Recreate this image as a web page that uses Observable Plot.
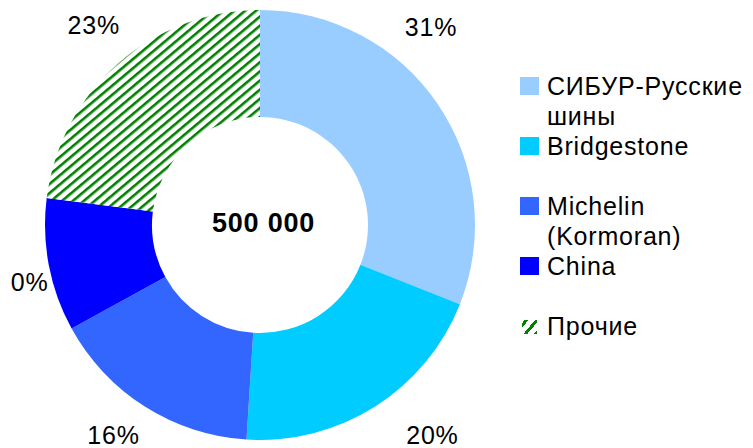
<!DOCTYPE html>
<html>
<head>
<meta charset="utf-8">
<script src="https://cdn.jsdelivr.net/npm/d3@7"></script>
<script src="https://cdn.jsdelivr.net/npm/@observablehq/plot@0.6"></script>
<style>
  html, body { margin: 0; padding: 0; background: #fff; overflow: hidden; }
  #wrap { position: relative; width: 753px; height: 448px; font-family: "Liberation Sans", Arial, sans-serif; }
  #wrap svg.plot, #wrap > svg { position: absolute; left: 0; top: 0; }
  #legend { position: absolute; left: 520px; top: 71px; width: 233px; }
  .entry { position: relative; height: 60px; }
  .sw { position: absolute; left: 0; top: 6px; width: 19px; height: 18px; }
  .txt { position: absolute; left: 27px; top: 0; width: 215px; font-size: 25px; line-height: 30px; letter-spacing: 0.8px; color: #000; }
</style>
</head>
<body>
<div id="wrap"></div>
<script>
// ---- data ----
const categories = ["СИБУР-Русские шины", "Bridgestone", "Michelin (Kormoran)", "China", "Прочие"];
const shares = [31, 20, 16, 10, 23];
const pctLabels = ["31%", "20%", "16%", "0%", "23%"];
const centerLabel = "500 000";
const colors = ["#99CCFF", "#00CCFF", "#3366FF", "#0000FF", "url(#hatch)"];
// label placement (polar: degrees clockwise from top, distance from centre)
const labelAngles = [40.8, 140.8, 214.9, 255.9, 320.1];
const labelRadii = [261, 272, 257, 238, 260];

const OUTER = 215, INNER = 108;

const rows = categories.map((c, i) => ({category: c, share: shares[i], label: pctLabels[i], color: colors[i],
  lx: labelRadii[i] * Math.sin(labelAngles[i] * Math.PI / 180),
  ly: labelRadii[i] * Math.cos(labelAngles[i] * Math.PI / 180)}));

const pie = d3.pie().sort(null).value(d => d.share)(rows);

function donut(...args) {
  const scales = args.find(a => a && typeof a.x === "function" && typeof a.y === "function");
  const x = scales.x, y = scales.y;
  const cx = x(0), cy = y(0);
  const ro = x(OUTER) - x(0), ri = x(INNER) - x(0);
  const arc = d3.arc().innerRadius(ri).outerRadius(ro);
  const g = d3.create("svg:g");
  const defs = g.append("defs");
  const pat = defs.append("pattern").attr("id", "hatch").attr("patternUnits", "userSpaceOnUse")
    .attr("width", 7).attr("height", 7).attr("patternTransform", "rotate(50)");
  pat.append("rect").attr("width", 7).attr("height", 7).attr("fill", "#fff");
  pat.append("rect").attr("width", 2.6).attr("height", 7).attr("fill", "#007F00");
  g.append("g").attr("transform", `translate(${cx},${cy})`)
    .selectAll("path").data(pie).join("path")
    .attr("d", arc).attr("fill", d => d.data.color);
  return g.node();
}

const chart = Plot.plot({
  width: 753, height: 448,
  margin: 0,
  x: {domain: [-260, 493], range: [0, 753], axis: null},
  y: {domain: [225, -223], range: [0, 448], axis: null},
  style: {fontFamily: '"Liberation Sans", Arial, sans-serif', background: "transparent"},
  marks: [
    donut,
    Plot.text(rows, {x: "lx", y: "ly", text: "label", fontSize: 25, fill: "#000", textAnchor: "middle"}),
    Plot.text([centerLabel], {x: () => 3, y: () => 2, text: d => d, fontSize: 27, fontWeight: "bold", fill: "#000"})
  ]
});
chart.querySelectorAll("text").forEach(t => t.setAttribute("letter-spacing", "0.8"));
const wrap = document.getElementById("wrap");
wrap.appendChild(chart);

// legend
const legend = document.createElement("div");
legend.id = "legend";
rows.forEach(r => {
  const e = document.createElement("div");
  e.className = "entry";
  const sw = document.createElement("div");
  sw.className = "sw";
  if (r.color.startsWith("url")) {
    sw.style.background = "repeating-linear-gradient(130deg, #fff 0 2px, #007F00 2px 5px, #fff 5px 8px)";
    sw.style.width = "15px"; sw.style.height = "14px"; sw.style.top = "9px"; sw.style.left = "2px";
  } else {
    sw.style.background = r.color;
  }
  const t = document.createElement("div");
  t.className = "txt";
  t.textContent = r.category;
  e.appendChild(sw); e.appendChild(t);
  legend.appendChild(e);
});
wrap.appendChild(legend);
</script>
</body>
</html>
